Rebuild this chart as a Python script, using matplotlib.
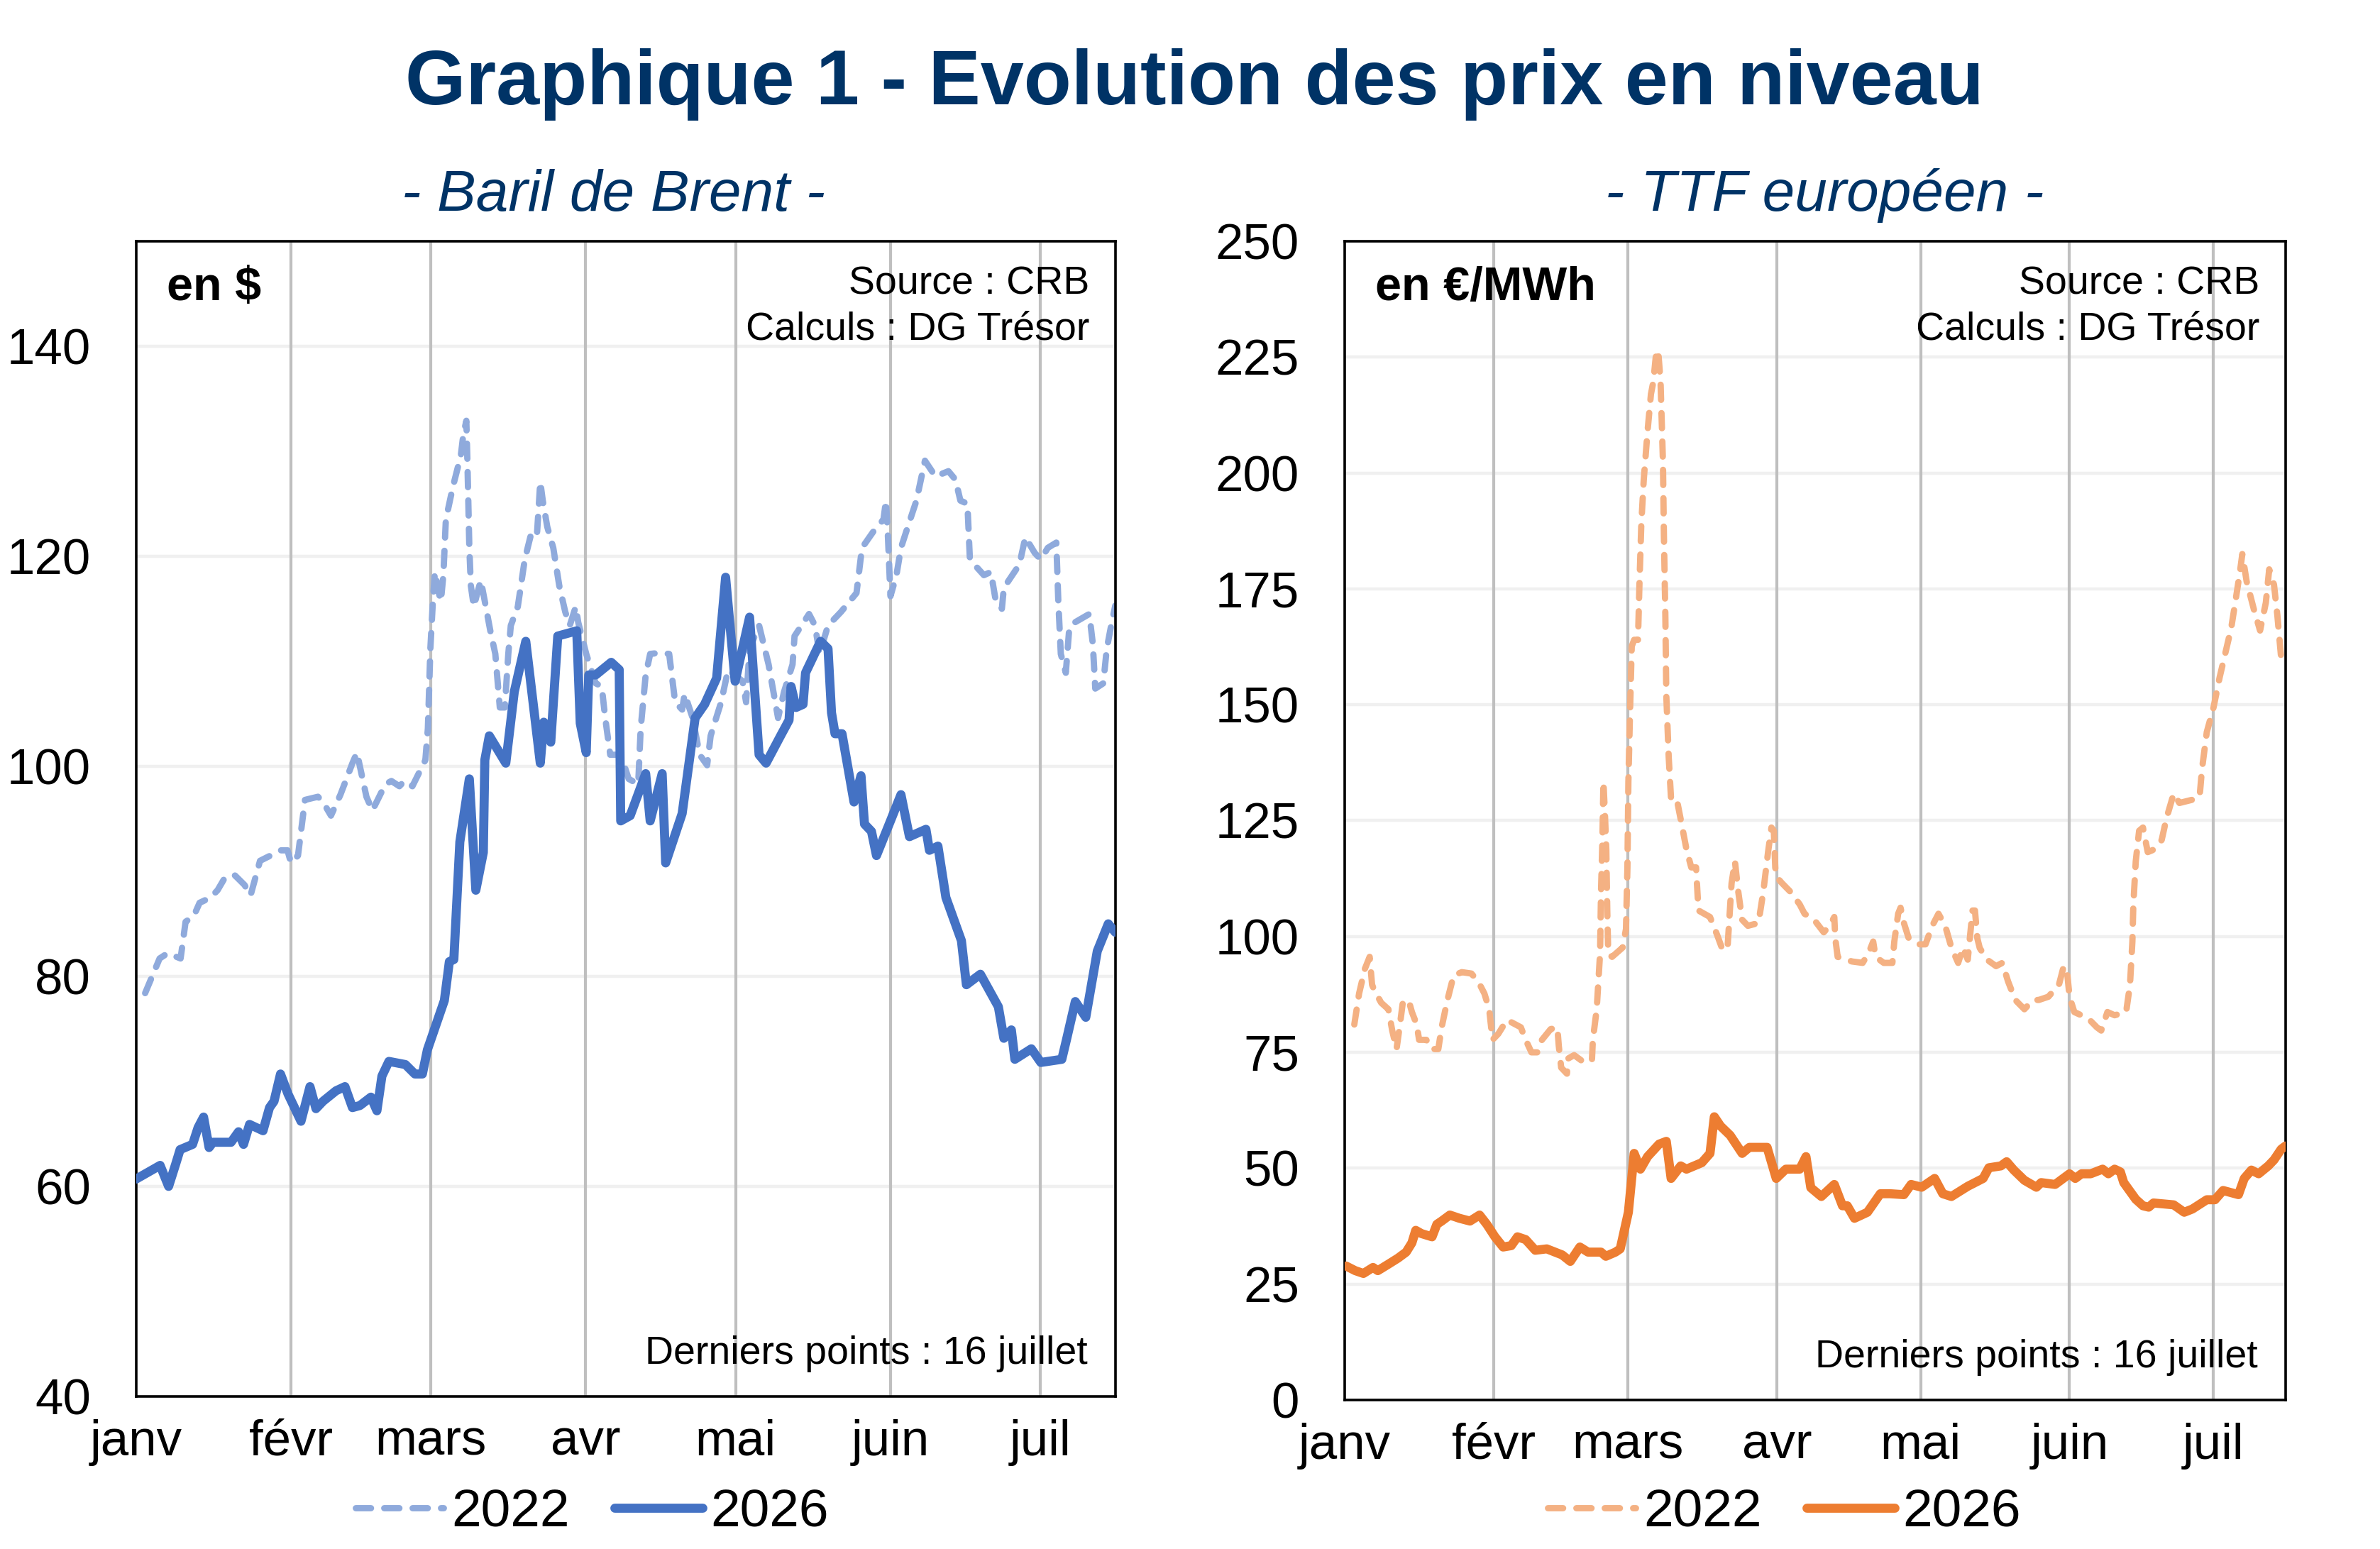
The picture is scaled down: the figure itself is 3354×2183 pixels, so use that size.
import matplotlib.pyplot as plt

# ---- data (day of year, 0 = 1 janv) ----
brent_2022_day = [1.8, 4.7, 6.3, 8.9, 9.9, 11.5, 12.7, 14.9, 16.3, 17.9, 19.8, 21.7, 22.9, 24.8, 26.9,
                  28.8, 30.3, 31.0, 32.4, 33.8, 36.4, 37.4, 39.0, 40.9, 43.3, 44.2, 46.1, 47.3, 49.9,
                  51.1, 52.7, 53.7, 55.3, 57.9, 58.4, 58.9, 59.4, 59.8, 60.5, 61.0, 61.5, 62.0, 63.4,
                  65.0, 65.5, 66.1, 66.3, 66.7, 67.0, 67.6, 68.3, 69.0, 69.8, 70.9, 71.9, 72.8, 73.8,
                  74.5, 75.0, 76.4, 77.8, 79.0, 80.2, 80.9, 81.4, 82.3, 83.5, 84.7, 85.9, 86.8, 88.0,
                  88.5, 90.1, 92.0, 93.2, 93.9, 94.9, 97.0, 98.6, 100.5, 101.0, 102.0, 102.9, 104.8,
                  106.7, 107.9, 109.3, 109.8, 111.4, 112.8, 114.3, 115.0, 117.1, 118.5, 121.4, 122.1,
                  122.8, 124.7, 126.6, 128.5, 129.7, 131.4, 131.8, 134.7, 135.9, 136.8, 138.5, 141.1,
                  144.2, 145.3, 147.5, 149.6, 150.1, 150.5, 151.0, 152.2, 153.1, 154.6, 156.2, 157.9,
                  160.0, 162.6, 164.0, 165.0, 166.4, 166.9, 167.8, 169.7, 171.1, 172.1, 173.3, 173.7,
                  175.4, 176.8, 178.0, 179.9, 181.1, 182.5, 184.2, 184.6, 185.1, 186.1, 186.8, 187.9,
                  190.8, 191.5, 192.0, 193.6, 194.3, 195.3, 196.0]
brent_2022 = [78.4, 81.7, 82.2, 81.7, 85.2, 85.7, 87.0, 87.5, 88.2, 89.5, 89.6, 88.7, 87.7, 91.0, 91.5,
              92.0, 92.0, 90.8, 91.5, 96.8, 97.1, 96.6, 95.3, 97.3, 100.3, 101.3, 97.1, 95.8, 98.3,
              98.6, 98.1, 98.6, 98.1, 100.6, 103.6, 111.2, 115.7, 118.5, 116.7, 115.7, 118.2, 123.5, 126.6,
              129.6, 131.6, 132.9, 129.3, 120.8, 117.2, 115.2, 116.5, 117.7, 115.7, 112.9, 110.7, 105.6, 105.6,
              110.7, 113.4, 115.2, 119.7, 122.0, 121.8, 127.1, 125.3, 122.8, 120.8, 117.2, 114.7, 113.4, 115.2,
              113.7, 110.7, 107.9, 107.6, 104.6, 101.1, 101.1, 98.8, 98.3, 103.6, 108.7, 110.7, 110.8,
              110.7, 106.1, 105.4, 106.9, 104.6, 101.1, 100.1, 102.9, 106.1, 109.2, 108.1, 106.1,
              111.2, 113.4, 109.7, 104.6, 107.1, 109.7, 112.4, 114.5, 113.4, 110.7, 113.4, 114.7,
              116.5, 120.8, 122.3, 123.5, 125.3, 121.8, 116.2, 118.2, 120.8, 123.0, 125.3, 129.1,
              127.6, 128.1, 127.3, 125.3, 125.0, 119.7, 119.2, 118.2, 118.5, 115.7, 115.0, 117.0,
              118.2, 119.2, 121.8, 120.3, 119.7, 120.8, 121.3, 115.7, 110.7, 108.9, 113.2, 113.7,
              114.5, 111.7, 107.4, 107.9, 111.2, 113.7, 115.3]

brent_2026_day = [0.0, 4.8, 6.5, 7.9, 8.8, 11.3, 12.4, 13.5, 14.6, 15.4, 19.0, 20.5, 21.5, 22.7, 25.4,
                  26.7, 27.6, 28.9, 30.4, 33.0, 34.8, 36.0, 37.4, 40.0, 41.8, 43.3, 44.8, 47.0, 48.2,
                  49.2, 50.6, 53.9, 55.8, 57.3, 58.3, 61.7, 62.7, 63.6, 64.8, 66.7, 68.0, 69.5, 69.8,
                  70.7, 74.0, 75.7, 78.0, 80.9, 81.6, 83.0, 84.4, 88.2, 88.9, 90.1, 90.6, 92.0, 95.1,
                  96.7, 97.0, 98.9, 102.0, 102.9, 105.3, 106.0, 109.3, 111.9, 113.8, 116.2, 118.0,
                  119.9, 122.8, 124.7, 126.1, 129.0, 130.7, 131.1, 132.1, 133.5, 134.0, 137.0, 138.5,
                  139.2, 139.9, 141.3, 143.7, 145.1, 145.8, 147.2, 148.2, 151.0, 153.1, 154.8, 158.1,
                  158.8, 160.5, 162.1, 165.2, 166.2, 169.0, 172.6, 173.7, 175.2, 175.9, 179.2, 181.1,
                  185.3, 186.3, 188.0, 190.1, 192.4, 194.6, 196.0]
brent_2026 = [60.7, 62.0, 60.0, 62.1, 63.5, 64.0, 65.6, 66.6, 63.7, 64.2, 64.2, 65.2, 64.0, 65.9, 65.3,
              67.5, 68.1, 70.7, 68.8, 66.2, 69.5, 67.4, 68.1, 69.1, 69.5, 67.5, 67.7, 68.5, 67.2,
              70.5, 71.9, 71.6, 70.7, 70.7, 73.0, 77.7, 81.4, 81.6, 92.8, 98.8, 88.2, 91.8, 100.6,
              102.9, 100.3, 107.1, 111.9, 100.3, 104.2, 102.3, 112.4, 112.9, 104.1, 101.3, 108.7, 108.7, 109.9,
              109.2, 94.8, 95.3, 99.3, 94.8, 99.3, 90.8, 95.5, 104.6, 105.9, 108.4, 118.0,
              108.1, 114.2, 101.1, 100.3, 102.9, 104.4, 107.6, 105.6, 105.9, 108.9, 111.9, 111.2,
              105.1, 103.1, 103.1, 96.6, 99.1, 94.5, 93.8, 91.5, 94.8, 97.3, 93.3, 94.0,
              92.0, 92.4, 87.5, 83.4, 79.2, 80.2, 77.1, 74.1, 74.9, 72.1, 73.1, 71.8,
              72.1, 74.1, 77.6, 76.1, 82.4, 85.0, 84.2]

ttf_2022_day = [2.0, 3.0, 4.2, 5.2, 5.7, 6.2, 7.6, 9.1, 9.9, 10.8, 11.6, 12.1, 13.3, 14.0, 15.0, 15.5,
                17.0, 18.0, 19.5, 20.2, 21.4, 22.7, 24.4, 26.4, 27.8, 29.1, 30.1, 30.8, 32.0, 33.8,
                36.7, 37.7, 38.9, 40.1, 41.1, 42.9, 44.3, 44.6, 45.1, 46.3, 46.6, 47.8, 49.5, 51.5,
                51.7, 52.5, 53.2, 53.4, 53.7, 53.9, 54.2, 54.5, 54.7, 54.9, 55.7, 57.9, 58.6, 58.9,
                59.1, 59.4, 59.8, 60.3, 61.1, 61.4, 61.8, 62.3, 63.1, 63.8, 64.3, 64.8, 65.3, 65.8,
                66.3, 66.5, 66.8, 67.0, 67.5, 68.0, 69.2, 70.2, 71.2, 72.2, 73.2, 73.7, 74.9, 76.1,
                77.6, 78.8, 79.8, 80.6, 81.3, 82.0, 82.8, 84.0, 86.2, 87.2, 88.2, 88.9, 89.4, 89.7,
                89.9, 91.1, 92.9, 94.8, 95.8, 97.8, 99.8, 101.0, 102.0, 102.2, 102.7, 105.7, 107.9,
                109.1, 110.1, 110.6, 112.3, 114.1, 114.5, 115.3, 115.8, 116.5, 117.5, 119.7, 121.0,
                122.4, 123.7, 125.1, 126.4, 127.8, 128.8, 129.8, 130.3, 130.8, 131.3, 131.8, 132.3,
                133.8, 135.7, 137.0, 138.2, 139.7, 141.6, 143.4, 144.6, 146.6, 148.8, 149.8, 150.5,
                151.0, 152.0, 154.9, 156.7, 157.6, 158.9, 160.4, 162.8, 163.6, 164.1, 164.3, 164.8,
                165.5, 166.3, 167.3, 168.7, 170.2, 171.2, 172.7, 173.9, 176.6, 178.1, 178.6, 179.6,
                181.0, 182.3, 183.5, 184.7, 185.7, 186.5, 187.0, 187.9, 189.4, 190.7, 191.9, 192.6,
                193.6, 194.3, 195.1, 195.8]
ttf_2022 = [81.0, 87.7, 93.0, 95.6, 89.6, 88.3, 85.7, 84.3, 79.7, 75.7, 81.7, 85.7, 86.3, 83.7, 81.0, 77.7,
            77.7, 75.7, 75.7, 80.4, 86.3, 91.6, 92.3, 92.0, 90.3, 87.7, 84.3, 77.7, 79.0, 82.0,
            80.4, 77.7, 75.0, 75.0, 77.7, 80.0, 80.4, 76.4, 71.7, 70.4, 73.7, 74.4, 73.1, 73.1,
            77.7, 84.3, 96.3, 109.6, 121.5, 133.4, 126.8, 118.8, 105.6, 96.3, 95.6, 97.6, 101.6, 114.9,
            133.4, 146.7, 162.6, 164.0, 164.0, 175.9, 189.2, 198.5, 209.1, 217.0, 219.7, 225.0, 226.5, 219.7,
            202.4, 186.5, 169.3, 152.0, 138.7, 129.5, 129.5, 124.2, 118.8, 114.9, 114.9, 105.6, 104.9, 104.2,
            100.3, 96.9, 98.3, 111.5, 116.2, 109.6, 103.6, 102.3, 102.9, 109.6, 118.2, 123.5, 122.8, 114.9,
            112.9, 111.5, 109.6, 106.9, 104.9, 103.6, 100.9, 102.3, 104.2, 99.6, 95.6, 94.6, 94.3,
            96.3, 98.9, 95.6, 94.3, 94.3, 98.9, 104.9, 106.2, 102.9, 99.6, 98.3, 98.3,
            102.3, 104.9, 102.3, 97.6, 94.3, 97.6, 95.0, 100.3, 105.6, 105.6, 99.6, 97.5,
            95.0, 93.6, 94.3, 90.3, 86.3, 84.3, 86.3, 86.3, 87.0, 89.6, 93.6, 92.3,
            87.0, 83.7, 82.3, 80.4, 79.7, 83.7, 83.0, 83.7, 89.6, 98.9, 106.9, 116.2,
            122.8, 123.5, 118.2, 118.8, 120.8, 125.5, 130.8, 128.8, 129.5, 130.1, 136.1, 144.1,
            149.4, 156.0, 161.3, 166.6, 173.2, 178.6, 182.5, 176.6, 170.6, 166.0, 172.0, 179.2,
            175.9, 169.3, 160.0, 159.3]

ttf_2026_day = [0.3, 2.2, 3.9, 5.9, 6.9, 9.1, 11.1, 12.8, 14.0, 14.8, 16.0, 18.2, 19.2, 20.2, 21.9, 23.9,
                26.1, 28.1, 29.6, 31.3, 33.0, 34.7, 36.0, 37.7, 39.7, 42.1, 45.3, 47.0, 49.0, 50.7,
                53.4, 54.4, 56.4, 57.4, 59.1, 60.3, 61.6, 63.1, 65.5, 67.0, 68.0, 70.0, 71.2, 74.4,
                76.1, 77.0, 78.3, 80.3, 82.8, 84.3, 88.0, 89.9, 91.9, 94.8, 96.1, 97.1, 99.3, 102.0,
                103.7, 104.7, 106.2, 108.9, 111.6, 113.6, 116.5, 118.0, 120.2, 122.9, 124.6, 126.4,
                129.8, 131.5, 133.0, 134.2, 136.7, 137.9, 139.4, 141.6, 144.1, 145.1, 148.0, 151.0,
                152.2, 153.5, 155.4, 157.9, 159.1, 160.4, 161.6, 162.3, 164.8, 166.3, 167.5, 168.5,
                172.7, 174.9, 176.6, 179.6, 181.3, 183.0, 186.2, 187.4, 188.9, 190.4, 192.4, 193.6,
                195.1, 196.0]
ttf_2026 = [28.9, 27.9, 27.3, 28.6, 27.9, 29.3, 30.6, 31.9, 33.9, 36.6, 35.9, 35.2, 37.9, 38.6, 39.9, 39.2,
            38.6, 39.9, 37.9, 35.2, 33.0, 33.3, 35.2, 34.6, 32.3, 32.6, 31.3, 29.9, 33.0, 31.9,
            31.9, 31.0, 31.9, 32.6, 40.5, 53.2, 49.8, 52.5, 55.2, 55.8, 47.8, 50.5, 49.8, 51.2,
            53.2, 61.1, 59.1, 57.1, 53.2, 54.5, 54.5, 47.8, 49.8, 49.8, 52.5, 45.8, 43.9, 46.5,
            41.9, 41.9, 39.2, 40.5, 44.5, 44.5, 44.3, 46.5, 45.9, 47.8, 44.5, 43.9,
            46.1, 47.0, 47.8, 50.1, 50.5, 51.4, 49.6, 47.4, 45.9, 46.9, 46.5, 48.8,
            47.8, 48.8, 48.8, 49.8, 48.8, 49.8, 49.2, 46.9, 43.3, 41.9, 41.6, 42.5,
            42.1, 40.5, 41.2, 43.2, 43.2, 45.2, 44.3, 47.8, 49.6, 48.8, 50.5, 51.8,
            54.1, 54.8]

month_days = [0, 31, 59, 90, 120, 151, 181]
month_labels = ["janv", "févr", "mars", "avr", "mai", "juin", "juil"]
brent_ticks = [40, 60, 80, 100, 120, 140]
ttf_ticks = [0, 25, 50, 75, 100, 125, 150, 175, 200, 225, 250]

plt.rcParams["font.family"] = ["Liberation Sans", "DejaVu Sans"]
NAVY = "#003366"
DASH = (0, (2.4, 2.1))

fig = plt.figure(figsize=(16.77, 10.915), dpi=200)
ax1 = fig.add_axes([0.0572, 0.0985, 0.4114, 0.7458])
ax2 = fig.add_axes([0.5650, 0.0962, 0.3953, 0.7481])


def style_panel(ax, ylim, yticks, unit):
    ax.set_xlim(0, 196)
    ax.set_ylim(*ylim)
    ax.set_yticks(yticks)
    ax.set_xticks(month_days, month_labels)
    ax.tick_params(axis="both", length=0, labelsize=25.5)
    ax.tick_params(axis="y", pad=23)
    ax.tick_params(axis="x", pad=11.5)
    for y in yticks[1:]:
        if y < ylim[1]:
            ax.axhline(y, color="#f0f0f0", lw=1.6, zorder=0)
    for d in month_days[1:]:
        ax.axvline(d, color="#bfbfbf", lw=1.5, zorder=0.5)
    for s in ax.spines.values():
        s.set_linewidth(1.3)
        s.set_color("black")
    ax.annotate(unit, xy=(0, 1), xycoords="axes fraction", xytext=(15.5, -30),
                textcoords="offset points", ha="left", va="baseline",
                fontsize=24, fontweight="bold")
    ax.annotate("Source : CRB", xy=(1, 1), xycoords="axes fraction", xytext=(-13, -27),
                textcoords="offset points", ha="right", va="baseline", fontsize=20)
    ax.annotate("Calculs : DG Trésor", xy=(1, 1), xycoords="axes fraction", xytext=(-13, -50),
                textcoords="offset points", ha="right", va="baseline", fontsize=20)
    ax.annotate("Derniers points : 16 juillet", xy=(1, 0), xycoords="axes fraction",
                xytext=(-14, 16.5), textcoords="offset points", ha="right", va="baseline",
                fontsize=20)


style_panel(ax1, (40, 150), brent_ticks, "en $")
style_panel(ax2, (0, 250), ttf_ticks, "en €/MWh")

ax1.plot(brent_2022_day, brent_2022, color="#8faadc", lw=3.2, ls=DASH,
         dash_capstyle="round", dash_joinstyle="round", label="2022", zorder=2)
ax1.plot(brent_2026_day, brent_2026, color="#4472c4", lw=4.6,
         solid_joinstyle="round", solid_capstyle="round", label="2026", zorder=3)
ax2.plot(ttf_2022_day, ttf_2022, color="#f4b183", lw=3.2, ls=DASH,
         dash_capstyle="round", dash_joinstyle="round", label="2022", zorder=2)
ax2.plot(ttf_2026_day, ttf_2026, color="#ed7d31", lw=4.6,
         solid_joinstyle="round", solid_capstyle="round", label="2026", zorder=3)

for ax, cx in [(ax1, 0.2487), (ax2, 0.7496)]:
    ax.legend(loc="center", bbox_to_anchor=(cx, 0.0235), bbox_transform=fig.transFigure,
              ncol=2, frameon=False, fontsize=27, handlelength=1.65, handletextpad=0.15,
              columnspacing=0.85)

fig.text(0.5018, 0.9327, "Graphique 1 - Evolution des prix en niveau", ha="center",
         va="baseline", fontsize=39.5, fontweight="bold", color=NAVY)
fig.text(0.2576, 0.8640, "- Baril de Brent -", ha="center", va="baseline",
         fontsize=29.5, style="italic", color=NAVY)
fig.text(0.7666, 0.8640, "- TTF européen -", ha="center", va="baseline",
         fontsize=29.5, style="italic", color=NAVY)

fig.savefig("out.png", dpi=200, facecolor="white")
